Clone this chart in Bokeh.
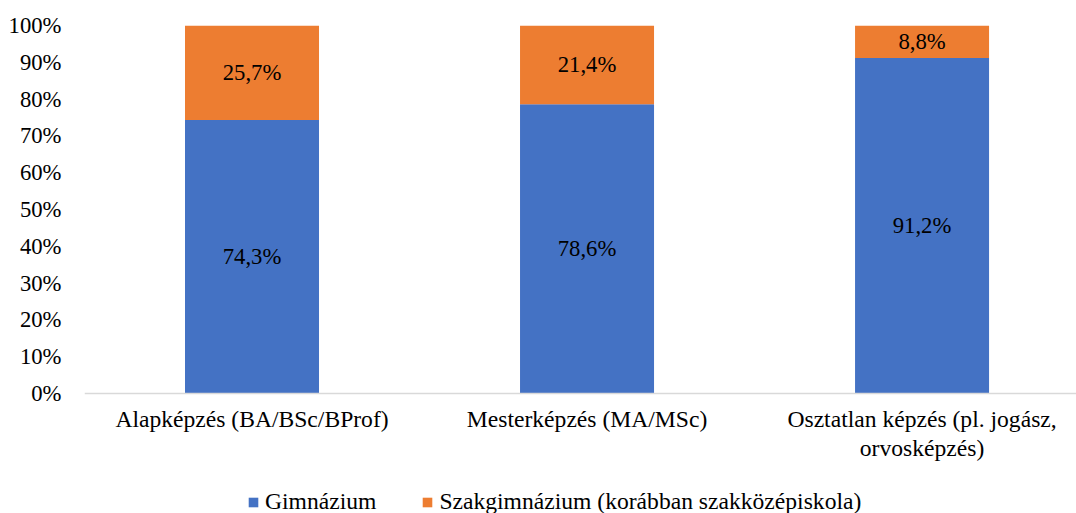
from bokeh.plotting import figure
from bokeh.models import ColumnDataSource, Legend, LegendItem, FixedTicker
from bokeh.core.properties import value
from bokeh.embed import file_html
from bokeh.resources import INLINE

categories = ["Alapképzés (BA/BSc/BProf)", "Mesterképzés (MA/MSc)",
              "Osztatlan képzés (pl. jogász,\norvosképzés)"]
gimnazium = [74.3, 78.6, 91.2]
szakgimnazium = [25.7, 21.4, 8.8]
series_names = ["Gimnázium", "Szakgimnázium (korábban szakközépiskola)"]
colors = ["#4472C4", "#ED7D31"]
y_ticks = [0, 10, 20, 30, 40, 50, 60, 70, 80, 90, 100]

FONT = "Times New Roman, Liberation Serif, serif"
FS = "22.7px"
FS_CAT = "23.6px"
xs = [i + 0.5 for i in range(len(categories))]

src = ColumnDataSource(dict(
    x=xs,
    g_top=gimnazium,
    s_top=[a + b for a, b in zip(gimnazium, szakgimnazium)],
    g_mid=[a / 2 for a in gimnazium],
    s_mid=[a + b / 2 for a, b in zip(gimnazium, szakgimnazium)],
    g_lab=[f"{v:.1f}%".replace(".", ",") for v in gimnazium],
    s_lab=[f"{v:.1f}%".replace(".", ",") for v in szakgimnazium],
))

# frame spans down to the canvas bottom; the x axis is pinned at y = 0
p = figure(width=1076, height=513, output_backend="svg", toolbar_location=None,
           x_range=(0, 2.961), y_range=(-32.6, 100))
p.min_border_left = 84
p.min_border_right = 0
p.min_border_top = 25
p.min_border_bottom = 0
p.outline_line_color = None
p.background_fill_color = "white"
p.border_fill_color = "white"

r1 = p.vbar(x="x", top="g_top", bottom=0, width=0.4, source=src,
            fill_color=colors[0], line_color=None)
r2 = p.vbar(x="x", top="s_top", bottom="g_top", width=0.4, source=src,
            fill_color=colors[1], line_color=None)

for col_y, col_t in (("g_mid", "g_lab"), ("s_mid", "s_lab")):
    p.text(x="x", y=col_y, text=col_t, source=src, text_align="center",
           text_baseline="middle", text_font=value(FONT),
           text_font_size=FS, text_color="#000000")

p.xgrid.grid_line_color = None
p.ygrid.grid_line_color = None

p.yaxis.ticker = FixedTicker(ticks=y_ticks)
p.yaxis.major_label_overrides = {t: f"{t}%" for t in y_ticks}
p.yaxis.axis_line_color = None
p.yaxis.major_tick_line_color = None
p.yaxis.major_tick_out = 0
p.yaxis.minor_tick_line_color = None
p.yaxis.major_label_standoff = 23
p.yaxis.major_label_text_font = FONT
p.yaxis.major_label_text_font_size = FS
p.yaxis.major_label_text_color = "#000000"

p.xaxis.fixed_location = 0
p.xaxis.ticker = FixedTicker(ticks=xs)
p.xaxis.major_label_overrides = {x: c for x, c in zip(xs, categories)}
p.xaxis.axis_line_color = "#D9D9D9"
p.xaxis.axis_line_width = 1.5
p.xaxis.major_tick_line_color = None
p.xaxis.major_tick_out = 0
p.xaxis.minor_tick_line_color = None
p.xaxis.major_label_standoff = 12
p.xaxis.major_label_text_font = FONT
p.xaxis.major_label_text_font_size = FS_CAT
p.xaxis.major_label_text_line_height = 1.15
p.xaxis.major_label_text_color = "#000000"

legend = Legend(items=[LegendItem(label=series_names[0], renderers=[r1]),
                       LegendItem(label=series_names[1], renderers=[r2])],
                orientation="horizontal", location=(163, -2))
legend.padding = 0
legend.margin = 0
legend.spacing = 45
legend.border_line_color = None
legend.background_fill_alpha = 0
legend.glyph_width = 12
legend.glyph_height = 12
legend.label_standoff = 6
legend.label_text_font = FONT
legend.label_text_font_size = FS_CAT
legend.label_text_color = "#000000"
p.add_layout(legend, "center")

open("out.html", "w").write(file_html(p, INLINE))
